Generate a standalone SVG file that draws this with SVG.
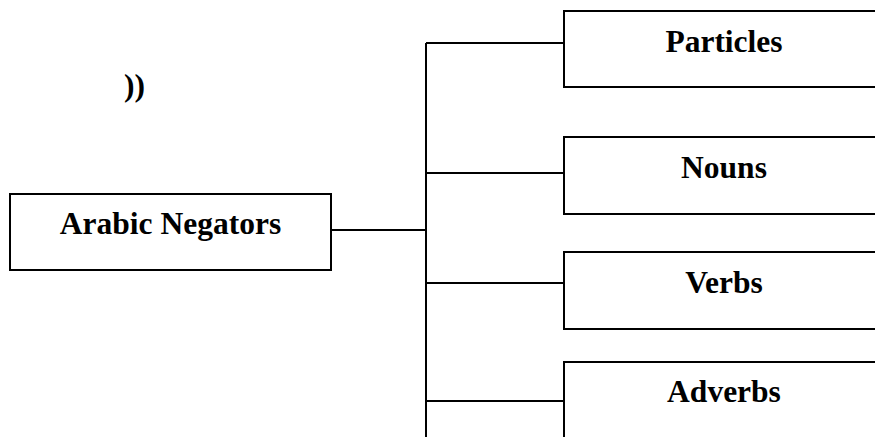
<svg xmlns="http://www.w3.org/2000/svg" width="875" height="437" viewBox="0 0 875 437">
  <style>
    .box { fill: #ffffff; stroke: #000000; stroke-width: 2; }
    .wire { fill: none; stroke: #000000; stroke-width: 2; }
    .label { font-family: "Liberation Serif", "Times New Roman", serif; font-weight: bold; font-size: 31.5px; fill: #000000; text-anchor: middle; }
  </style>
  <rect width="875" height="437" fill="#ffffff"/>

  <text class="label" x="134.5" y="96">))</text>

  <g id="connectors">
    <line class="wire" x1="331" y1="230" x2="426" y2="230"/>
    <line class="wire" x1="426" y1="43" x2="426" y2="440"/>
    <line class="wire" x1="426" y1="43" x2="564" y2="43"/>
    <line class="wire" x1="426" y1="173" x2="564" y2="173"/>
    <line class="wire" x1="426" y1="283" x2="564" y2="283"/>
    <line class="wire" x1="426" y1="401" x2="564" y2="401"/>
  </g>

  <g id="arabic-negators">
    <rect class="box" x="10" y="194" width="321" height="76"/>
    <text class="label" x="170.5" y="234">Arabic Negators</text>
  </g>

  <g id="particles">
    <rect class="box" x="564" y="11" width="320" height="76"/>
    <text class="label" x="724" y="52">Particles</text>
  </g>

  <g id="nouns">
    <rect class="box" x="564" y="137" width="320" height="77"/>
    <text class="label" x="724" y="178">Nouns</text>
  </g>

  <g id="verbs">
    <rect class="box" x="564" y="252" width="320" height="77"/>
    <text class="label" x="724" y="293">Verbs</text>
  </g>

  <g id="adverbs">
    <rect class="box" x="564" y="362" width="320" height="90"/>
    <text class="label" x="724" y="402">Adverbs</text>
  </g>
</svg>
